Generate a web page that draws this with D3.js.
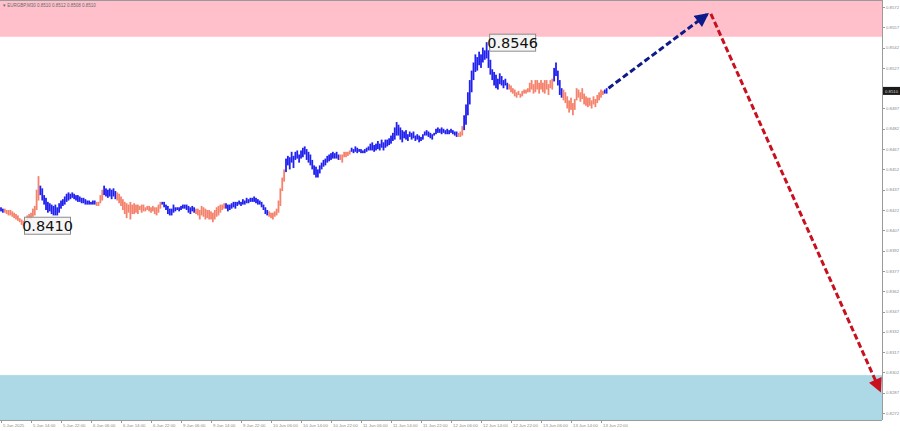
<!DOCTYPE html>
<html>
<head>
<meta charset="utf-8">
<script src="https://cdn.jsdelivr.net/npm/d3@7"></script>
<style>
  body { margin: 0; background: #fff; }
  svg { display: block; font-family: "DejaVu Sans", Tahoma, sans-serif; }
  .tick-label { fill: #8a8a8a; font-size: 4.3px; font-family: "Liberation Sans", Arial, sans-serif; }
</style>
</head>
<body>
<svg id="chart"></svg>
<script>
// EURGBP M30 bars, 5 Jun 06:00 .. 13 Jun 23:30 (bar index 0..323)
var barLow = [
  0.8421,0.8420,0.8420,0.8419,0.8418,0.8418,0.8417,0.8416,0.8415,0.8414,
  0.8413,0.8411,0.8410,0.8412,0.8413,0.8415,0.8415,0.8417,0.8418,0.8422,
  0.8429,0.8433,0.8429,0.8426,0.8422,0.8420,0.8421,0.8419,0.8418,0.8418,
  0.8418,0.8420,0.8423,0.8425,0.8426,0.8428,0.8429,0.8430,0.8431,0.8430,
  0.8429,0.8428,0.8428,0.8427,0.8427,0.8426,0.8426,0.8426,0.8426,0.8426,
  0.8426,0.8425,0.8425,0.8427,0.8429,0.8433,0.8432,0.8431,0.8432,0.8430,
  0.8432,0.8430,0.8429,0.8427,0.8425,0.8422,0.8419,0.8416,0.8420,0.8415,
  0.8419,0.8419,0.8420,0.8419,0.8422,0.8420,0.8421,0.8421,0.8422,0.8421,
  0.8420,0.8421,0.8419,0.8418,0.8420,0.8423,0.8426,0.8424,0.8422,0.8419,
  0.8418,0.8418,0.8420,0.8421,0.8422,0.8421,0.8422,0.8423,0.8423,0.8422,
  0.8420,0.8419,0.8421,0.8420,0.8419,0.8418,0.8415,0.8418,0.8417,0.8415,
  0.8416,0.8415,0.8415,0.8413,0.8415,0.8417,0.8418,0.8420,0.8422,0.8423,
  0.8423,0.8421,0.8422,0.8423,0.8424,0.8423,0.8425,0.8426,0.8425,0.8426,
  0.8426,0.8427,0.8427,0.8428,0.8428,0.8428,0.8427,0.8426,0.8426,0.8424,
  0.8422,0.8419,0.8418,0.8417,0.8416,0.8415,0.8417,0.8418,0.8420,0.8425,
  0.8436,0.8443,0.8450,0.8455,0.8452,0.8457,0.8453,0.8459,0.8460,0.8457,
  0.8460,0.8461,0.8463,0.8459,0.8457,0.8455,0.8452,0.8448,0.8446,0.8446,
  0.8449,0.8452,0.8454,0.8455,0.8457,0.8458,0.8459,0.8460,0.8460,0.8460,
  0.8459,0.8459,0.8457,0.8461,0.8461,0.8462,0.8463,0.8465,0.8464,0.8465,
  0.8464,0.8465,0.8464,0.8464,0.8464,0.8465,0.8466,0.8466,0.8466,0.8465,
  0.8466,0.8467,0.8466,0.8468,0.8466,0.8468,0.8469,0.8470,0.8471,0.8473,
  0.8474,0.8477,0.8477,0.8474,0.8472,0.8475,0.8474,0.8473,0.8476,0.8474,
  0.8475,0.8473,0.8474,0.8472,0.8473,0.8474,0.8477,0.8477,0.8476,0.8475,
  0.8474,0.8477,0.8478,0.8479,0.8479,0.8478,0.8479,0.8478,0.8478,0.8478,
  0.8479,0.8478,0.8477,0.8476,0.8476,0.8476,0.8477,0.8481,0.8485,0.8492,
  0.8500,0.8509,0.8518,0.8524,0.8525,0.8529,0.8527,0.8531,0.8533,0.8534,
  0.8527,0.8522,0.8518,0.8514,0.8512,0.8511,0.8515,0.8514,0.8512,0.8514,
  0.8511,0.8511,0.8509,0.8508,0.8506,0.8505,0.8507,0.8505,0.8506,0.8508,
  0.8508,0.8509,0.8509,0.8511,0.8508,0.8509,0.8511,0.8508,0.8511,0.8509,
  0.8508,0.8511,0.8507,0.8512,0.8511,0.8517,0.8521,0.8514,0.8507,0.8505,
  0.8503,0.8501,0.8497,0.8494,0.8496,0.8492,0.8496,0.8503,0.8505,0.8502,
  0.8504,0.8500,0.8499,0.8498,0.8499,0.8497,0.8500,0.8498,0.8501,0.8503,
  0.8505,0.8507,0.8508,0.8508
];
var barHigh = [
  0.8424,0.8423,0.8423,0.8422,0.8422,0.8422,0.8421,0.8420,0.8419,0.8418,
  0.8416,0.8415,0.8414,0.8415,0.8418,0.8419,0.8420,0.8423,0.8425,0.8437,
  0.8447,0.8440,0.8438,0.8433,0.8431,0.8428,0.8427,0.8426,0.8425,0.8426,
  0.8424,0.8427,0.8429,0.8430,0.8432,0.8434,0.8435,0.8434,0.8435,0.8434,
  0.8433,0.8433,0.8432,0.8431,0.8431,0.8430,0.8429,0.8429,0.8428,0.8429,
  0.8429,0.8428,0.8428,0.8433,0.8437,0.8440,0.8438,0.8437,0.8438,0.8437,
  0.8438,0.8436,0.8435,0.8434,0.8432,0.8430,0.8428,0.8427,0.8426,0.8428,
  0.8426,0.8427,0.8426,0.8426,0.8425,0.8426,0.8426,0.8424,0.8425,0.8425,
  0.8424,0.8425,0.8424,0.8424,0.8426,0.8428,0.8428,0.8428,0.8426,0.8425,
  0.8423,0.8423,0.8426,0.8424,0.8424,0.8424,0.8425,0.8426,0.8426,0.8426,
  0.8425,0.8424,0.8425,0.8424,0.8423,0.8423,0.8422,0.8425,0.8424,0.8423,
  0.8422,0.8422,0.8421,0.8420,0.8422,0.8424,0.8425,0.8426,0.8426,0.8427,
  0.8427,0.8426,0.8426,0.8427,0.8428,0.8428,0.8428,0.8429,0.8428,0.8430,
  0.8429,0.8431,0.8430,0.8431,0.8431,0.8432,0.8431,0.8430,0.8429,0.8428,
  0.8426,0.8424,0.8422,0.8421,0.8420,0.8420,0.8421,0.8423,0.8429,0.8438,
  0.8446,0.8452,0.8460,0.8462,0.8461,0.8465,0.8462,0.8465,0.8466,0.8463,
  0.8466,0.8468,0.8469,0.8467,0.8465,0.8463,0.8459,0.8455,0.8454,0.8452,
  0.8455,0.8457,0.8459,0.8460,0.8462,0.8463,0.8464,0.8465,0.8464,0.8465,
  0.8463,0.8463,0.8463,0.8465,0.8465,0.8465,0.8466,0.8468,0.8467,0.8469,
  0.8468,0.8467,0.8467,0.8466,0.8467,0.8468,0.8469,0.8471,0.8472,0.8470,
  0.8471,0.8473,0.8471,0.8474,0.8472,0.8474,0.8474,0.8475,0.8477,0.8479,
  0.8483,0.8487,0.8485,0.8483,0.8481,0.8480,0.8481,0.8478,0.8480,0.8479,
  0.8480,0.8477,0.8478,0.8477,0.8476,0.8478,0.8480,0.8481,0.8480,0.8479,
  0.8478,0.8479,0.8482,0.8483,0.8482,0.8483,0.8482,0.8481,0.8482,0.8481,
  0.8482,0.8481,0.8480,0.8480,0.8479,0.8480,0.8484,0.8492,0.8500,0.8509,
  0.8518,0.8525,0.8531,0.8537,0.8535,0.8539,0.8537,0.8542,0.8540,0.8546,
  0.8540,0.8533,0.8526,0.8524,0.8522,0.8519,0.8523,0.8521,0.8518,0.8519,
  0.8516,0.8515,0.8514,0.8512,0.8511,0.8509,0.8510,0.8508,0.8510,0.8511,
  0.8511,0.8512,0.8516,0.8518,0.8515,0.8518,0.8518,0.8516,0.8518,0.8516,
  0.8518,0.8518,0.8515,0.8518,0.8519,0.8527,0.8531,0.8525,0.8518,0.8512,
  0.8511,0.8509,0.8506,0.8503,0.8505,0.8501,0.8504,0.8512,0.8511,0.8509,
  0.8512,0.8508,0.8506,0.8505,0.8505,0.8503,0.8506,0.8504,0.8507,0.8509,
  0.8511,0.8510,0.8511,0.8512
];

// first bar of each wave, waves alternate up (blue) / down (salmon)
var waveStart = [0, 2, 21, 51, 55, 62, 86, 104, 120, 143, 152, 181, 187, 244, 247, 271, 295, 300, 322];

var timeLabels = ["5 Jun 2025", "5 Jun 14:00", "5 Jun 22:00", "6 Jun 06:00", "6 Jun 14:00",
  "6 Jun 22:00", "9 Jun 06:00", "9 Jun 14:00", "9 Jun 22:00", "10 Jun 06:00", "10 Jun 14:00",
  "10 Jun 22:00", "11 Jun 06:00", "11 Jun 14:00", "11 Jun 22:00", "12 Jun 06:00", "12 Jun 14:00",
  "12 Jun 22:00", "13 Jun 06:00", "13 Jun 14:00", "13 Jun 22:00"];
var barsPerLabel = 16;

var priceTicks = [0.8572, 0.8557, 0.8542, 0.8527, 0.8497, 0.8482, 0.8467, 0.8452, 0.8437,
  0.8422, 0.8407, 0.8392, 0.8377, 0.8362, 0.8347, 0.8332, 0.8317, 0.8302, 0.8287, 0.8272];
var lastPrice = 0.8510;

// target zones
var sellZone = [0.8550, 0.8580];
var buyZone = [0.8265, 0.8300];

// forecast path: bar index and price
var forecastBar = [324, 377, 469];
var forecastPrice = [0.8512, 0.8567, 0.8288];

// marked extremes
var extremeBar = [12, 259];
var extremePrice = [0.8410, 0.8546];

var W = 900, H = 431;
var plotRight = 882, plotBottom = 420;
var upColor = "#2222ee", downColor = "#f4826c";

var svg = d3.select("#chart").attr("width", W).attr("height", H);

var x = d3.scaleLinear().domain([0, 320]).range([1, 601]);
var y = d3.scaleLinear().domain([0.8272, 0.8572]).range([413, 7]);

var defs = svg.append("defs");
defs.append("clipPath").attr("id", "plot")
  .append("rect").attr("x", 0).attr("y", 0).attr("width", plotRight).attr("height", plotBottom);

function arrowMarker(id, color) {
  defs.append("marker")
    .attr("id", id)
    .attr("viewBox", "0 0 10 10")
    .attr("refX", 9).attr("refY", 5)
    .attr("markerUnits", "userSpaceOnUse")
    .attr("markerWidth", 15).attr("markerHeight", 14)
    .attr("orient", "auto")
    .append("path").attr("d", "M0,0L10,5L0,10Z").attr("fill", color);
}
arrowMarker("arrowBlue", "#0d1a8a");
arrowMarker("arrowRed", "#c8101e");

var plot = svg.append("g").attr("clip-path", "url(#plot)");

// zones
plot.append("rect")
  .attr("x", 0).attr("width", plotRight)
  .attr("y", y(sellZone[1])).attr("height", y(sellZone[0]) - y(sellZone[1]))
  .attr("fill", "#ffc0cb");
plot.append("rect")
  .attr("x", 0).attr("width", plotRight)
  .attr("y", y(buyZone[1])).attr("height", y(buyZone[0]) - y(buyZone[1]))
  .attr("fill", "#add8e6");

// bars coloured by wave
function waveIndex(i) {
  var w = 0;
  waveStart.forEach(function (s, k) { if (i >= s) w = k; });
  return w;
}
plot.append("g").selectAll("rect")
  .data(barLow)
  .enter()
  .append("rect")
  .attr("x", (d, i) => x(i) - 0.9)
  .attr("width", 1.8)
  .attr("y", (d, i) => y(barHigh[i]))
  .attr("height", (d, i) => Math.max(1, y(d) - y(barHigh[i])))
  .attr("fill", (d, i) => waveIndex(i) % 2 == 0 ? upColor : downColor);

// forecast arrows
plot.append("line")
  .attr("x1", x(forecastBar[0])).attr("y1", y(forecastPrice[0]))
  .attr("x2", x(forecastBar[1])).attr("y2", y(forecastPrice[1]))
  .attr("stroke", "#0d1a8a").attr("stroke-width", 3)
  .attr("stroke-dasharray", "6,3")
  .attr("marker-end", "url(#arrowBlue)");
plot.append("line")
  .attr("x1", x(forecastBar[1]) + 3).attr("y1", y(forecastPrice[1]))
  .attr("x2", x(forecastBar[2])).attr("y2", y(forecastPrice[2]))
  .attr("stroke", "#c8101e").attr("stroke-width", 3)
  .attr("stroke-dasharray", "6,3")
  .attr("marker-end", "url(#arrowRed)");

// extreme labels
var lab = svg.append("g").selectAll("g")
  .data(extremePrice)
  .enter()
  .append("g")
  .attr("transform", (d, i) => i == 0
    ? `translate(${x(extremeBar[i]) + 1},${y(d) - 9})`
    : `translate(${x(extremeBar[i]) + 3},${y(d) - 8})`);
lab.append("rect")
  .attr("width", 46).attr("height", 17)
  .attr("fill", "#f4f4f4").attr("fill-opacity", 0.85)
  .attr("stroke", "#8c8c8c").attr("stroke-width", 1);
lab.append("text")
  .attr("x", 23).attr("y", 13.5)
  .attr("text-anchor", "middle")
  .attr("font-size", 14.5)
  .attr("fill", "#111")
  .text(d => d.toFixed(4));

// frame
svg.append("line").attr("x1", 0).attr("x2", plotRight).attr("y1", 0.5).attr("y2", 0.5)
  .attr("stroke", "#9a9a9a");
svg.append("line").attr("x1", 0).attr("x2", plotRight).attr("y1", plotBottom + 0.5).attr("y2", plotBottom + 0.5)
  .attr("stroke", "#9a9a9a");
svg.append("line").attr("x1", plotRight + 0.5).attr("x2", plotRight + 0.5).attr("y1", 0).attr("y2", plotBottom)
  .attr("stroke", "#9a9a9a");

// price axis
var yAxis = svg.append("g");
priceTicks.forEach(function (p) {
  yAxis.append("line")
    .attr("x1", plotRight).attr("x2", plotRight + 3)
    .attr("y1", Math.round(y(p)) + 0.5).attr("y2", Math.round(y(p)) + 0.5)
    .attr("stroke", "#9a9a9a");
  yAxis.append("text")
    .attr("class", "tick-label")
    .attr("x", plotRight + 4).attr("y", y(p) + 1.6)
    .text(p.toFixed(4));
});
yAxis.append("rect")
  .attr("x", plotRight + 1).attr("y", y(lastPrice) - 4)
  .attr("width", 17).attr("height", 8)
  .attr("fill", "#1a1a1a");
yAxis.append("text")
  .attr("x", plotRight + 3).attr("y", y(lastPrice) + 1.6)
  .attr("font-size", 4.3).attr("font-family", "Liberation Sans, Arial, sans-serif")
  .attr("fill", "#d8d8d8")
  .text(lastPrice.toFixed(4));

// time axis
var xAxis = svg.append("g");
timeLabels.forEach(function (t, k) {
  var px = Math.round(x(k * barsPerLabel)) + 0.5;
  xAxis.append("line")
    .attr("x1", px).attr("x2", px)
    .attr("y1", plotBottom).attr("y2", plotBottom + 3)
    .attr("stroke", "#9a9a9a");
  xAxis.append("text")
    .attr("class", "tick-label")
    .attr("x", px + 1.5).attr("y", plotBottom + 7)
    .text(t);
});

// header
svg.append("text")
  .attr("x", 3).attr("y", 7)
  .attr("font-size", 4.5).attr("font-family", "Liberation Sans, Arial, sans-serif")
  .attr("fill", "#6a6a6a")
  .text("\u25BE EURGBP,M30  0.8510 0.8512 0.8508 0.8510");
</script>
</body>
</html>
